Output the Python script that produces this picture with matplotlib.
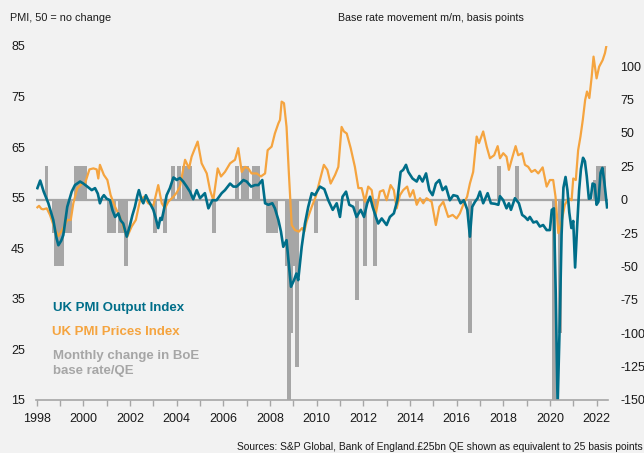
import matplotlib
matplotlib.use("Agg")
import matplotlib.pyplot as plt

# ---------------- data ----------------
output_dates = [
    1998.03, 1998.15, 1998.30, 1998.50, 1998.71, 1998.85, 1998.93, 1999.05, 1999.14, 1999.31,
    1999.50, 1999.64, 1999.86, 2000.00, 2000.17, 2000.36, 2000.50, 2000.62, 2000.71, 2000.80,
    2000.88, 2001.00, 2001.14, 2001.25, 2001.36, 2001.50, 2001.60, 2001.71, 2001.86, 2002.00,
    2002.10, 2002.21, 2002.32, 2002.38, 2002.50, 2002.57, 2002.68, 2002.78, 2002.90, 2003.00,
    2003.10, 2003.21, 2003.30, 2003.36, 2003.47, 2003.57, 2003.71, 2003.86, 2003.93, 2004.00,
    2004.14, 2004.28, 2004.43, 2004.57, 2004.71, 2004.86, 2005.00, 2005.21, 2005.36, 2005.53,
    2005.71, 2005.93, 2006.07, 2006.29, 2006.43, 2006.57, 2006.71, 2006.86, 2007.00, 2007.19,
    2007.36, 2007.50, 2007.67, 2007.79, 2007.93, 2008.10, 2008.21, 2008.36, 2008.47, 2008.57,
    2008.71, 2008.79, 2008.90, 2009.03, 2009.13, 2009.21, 2009.36, 2009.50, 2009.64, 2009.79,
    2009.93, 2010.14, 2010.33, 2010.50, 2010.69, 2010.86, 2011.00, 2011.11, 2011.26, 2011.40,
    2011.57, 2011.71, 2011.89, 2012.03, 2012.17, 2012.29, 2012.40, 2012.54, 2012.64, 2012.79,
    2013.00, 2013.14, 2013.31, 2013.46, 2013.60, 2013.71, 2013.83, 2013.93, 2014.11, 2014.29,
    2014.40, 2014.54, 2014.69, 2014.83, 2014.97, 2015.11, 2015.26, 2015.40, 2015.54, 2015.71,
    2015.86, 2016.03, 2016.17, 2016.31, 2016.46, 2016.57, 2016.67, 2016.79, 2016.90, 2017.00,
    2017.14, 2017.33, 2017.47, 2017.64, 2017.79, 2017.86, 2018.00, 2018.14, 2018.24, 2018.33,
    2018.50, 2018.67, 2018.81, 2018.93, 2019.05, 2019.14, 2019.29, 2019.43, 2019.57, 2019.71,
    2019.86, 2020.00, 2020.08, 2020.17, 2020.25, 2020.33, 2020.42, 2020.50, 2020.58, 2020.67,
    2020.75, 2020.83, 2020.92, 2021.00, 2021.08, 2021.17, 2021.25, 2021.33, 2021.42, 2021.50,
    2021.58, 2021.67, 2021.75, 2021.83, 2021.92, 2022.00, 2022.08, 2022.17, 2022.25, 2022.33,
    2022.45,
]
output_values = [
    56.9, 58.4, 56.2, 53.9, 50.6, 47.0, 45.6, 46.5, 47.6, 53.2,
    56.2, 57.5, 58.2, 57.8, 57.2, 56.5, 56.9, 55.8, 53.9, 55.0,
    55.5, 54.8, 54.5, 52.5, 51.2, 51.9, 50.5, 49.9, 47.3, 49.6,
    51.5, 53.2, 55.5, 56.5, 54.5, 53.9, 55.5, 54.5, 53.5, 52.6,
    51.0, 49.0, 51.0, 50.6, 53.0, 55.5, 56.9, 59.0, 58.8, 58.5,
    58.9, 58.2, 57.2, 56.2, 54.7, 56.5, 54.9, 55.9, 52.9, 54.5,
    54.5, 55.9, 56.5, 57.8, 57.2, 57.2, 57.8, 58.5, 58.2, 57.2,
    57.5, 57.5, 58.5, 53.9, 53.6, 53.9, 52.9, 50.6, 48.3, 45.3,
    46.6, 42.7, 37.4, 38.7, 40.0, 38.7, 45.3, 49.9, 53.2, 55.9,
    55.5, 57.2, 56.7, 54.5, 52.6, 53.9, 51.2, 55.2, 56.2, 53.6,
    53.2, 51.2, 52.6, 51.2, 53.9, 55.2, 53.2, 51.2, 49.9, 50.9,
    49.6, 51.2, 51.9, 54.5, 60.1, 60.5, 61.5, 60.1, 58.8, 58.2,
    59.3, 58.2, 59.8, 56.5, 55.5, 57.8, 58.5, 56.5, 57.2, 54.5,
    55.5, 55.3, 53.9, 54.5, 52.6, 47.3, 53.2, 54.2, 54.9, 56.2,
    53.9, 55.9, 53.9, 53.8, 53.6, 55.3, 54.5, 52.9, 53.9, 52.6,
    54.9, 53.9, 51.6, 51.2, 50.6, 51.2, 50.1, 50.3, 49.3, 49.6,
    48.6, 48.6, 52.6, 52.9, 36.0, 13.8, 30.0, 47.7, 57.0, 59.1,
    56.5, 52.1, 49.0, 50.4, 41.2, 49.6, 56.4, 60.7, 62.9, 62.2,
    59.2, 54.8, 54.9, 57.8, 57.6, 53.6, 54.2, 59.9, 60.9, 58.2,
    53.1,
]

prices_dates = [
    1998.03, 1998.10, 1998.20, 1998.28, 1998.43, 1998.57, 1998.74, 1998.93, 1999.14, 1999.31,
    1999.46, 1999.57, 1999.74, 1999.93, 2000.07, 2000.26, 2000.43, 2000.57, 2000.64, 2000.71,
    2000.88, 2001.03, 2001.17, 2001.36, 2001.57, 2001.78, 2001.88, 2002.07, 2002.25, 2002.43,
    2002.60, 2002.78, 2003.00, 2003.21, 2003.36, 2003.50, 2003.64, 2003.86, 2004.00, 2004.14,
    2004.36, 2004.53, 2004.64, 2004.75, 2004.90, 2005.07, 2005.29, 2005.43, 2005.57, 2005.76,
    2005.90, 2006.07, 2006.29, 2006.50, 2006.64, 2006.79, 2006.93, 2007.07, 2007.21, 2007.43,
    2007.61, 2007.79, 2007.90, 2008.07, 2008.21, 2008.36, 2008.43, 2008.50, 2008.60, 2008.71,
    2008.81, 2008.93, 2009.07, 2009.24, 2009.38, 2009.47, 2009.57, 2009.79, 2009.96, 2010.14,
    2010.31, 2010.46, 2010.60, 2010.79, 2010.93, 2011.07, 2011.17, 2011.29, 2011.46, 2011.64,
    2011.79, 2011.93, 2012.07, 2012.21, 2012.36, 2012.46, 2012.54, 2012.71, 2012.86, 2013.00,
    2013.17, 2013.31, 2013.43, 2013.57, 2013.71, 2013.88, 2014.00, 2014.14, 2014.29, 2014.43,
    2014.57, 2014.71, 2014.93, 2015.11, 2015.26, 2015.43, 2015.64, 2015.83, 2016.00, 2016.14,
    2016.31, 2016.45, 2016.57, 2016.71, 2016.86, 2016.96, 2017.14, 2017.29, 2017.43, 2017.61,
    2017.76, 2017.86, 2018.00, 2018.14, 2018.24, 2018.36, 2018.53, 2018.64, 2018.81, 2018.93,
    2019.07, 2019.21, 2019.36, 2019.50, 2019.69, 2019.86, 2020.00, 2020.14, 2020.24, 2020.36,
    2020.50, 2020.64, 2020.79, 2020.93, 2021.00, 2021.11, 2021.21, 2021.31, 2021.41, 2021.51,
    2021.59, 2021.69, 2021.79, 2021.87, 2022.00, 2022.11, 2022.26, 2022.36, 2022.45,
]
prices_values = [
    53.1, 53.4, 52.8, 52.7, 52.9, 51.6, 49.3, 47.4, 49.0, 50.6,
    50.6, 53.9, 56.9, 57.7, 57.8, 60.6, 60.8, 60.6, 58.8, 61.5,
    59.5, 58.5, 55.5, 53.2, 51.2, 48.3, 47.3, 49.3, 50.6, 54.5,
    55.2, 53.9, 53.4, 57.5, 53.9, 52.9, 54.2, 55.2, 56.0, 57.2,
    62.5, 60.8, 63.1, 64.4, 66.1, 61.8, 59.8, 56.5, 54.5, 60.8,
    59.2, 60.1, 61.8, 62.5, 64.8, 60.1, 61.1, 60.8, 59.8, 59.8,
    59.2, 59.8, 64.4, 65.1, 67.7, 69.7, 70.4, 74.0, 73.7, 69.0,
    59.8, 49.6, 48.6, 48.3, 49.0, 48.3, 50.3, 53.2, 55.2, 58.5,
    61.5, 60.5, 57.8, 59.5, 61.1, 69.0, 68.1, 67.7, 64.8, 61.1,
    56.9, 56.9, 54.2, 57.2, 56.5, 53.2, 51.9, 56.2, 56.5, 54.5,
    57.5, 56.5, 52.9, 55.5, 56.5, 57.2, 55.2, 56.5, 53.6, 54.9,
    53.9, 54.9, 54.2, 49.6, 53.2, 54.2, 51.2, 51.6, 50.9, 51.9,
    53.9, 55.2, 57.8, 60.1, 67.1, 65.8, 68.1, 65.1, 62.8, 63.4,
    65.2, 62.8, 63.8, 63.1, 60.5, 62.5, 65.2, 63.4, 63.8, 61.5,
    61.1, 60.1, 60.5, 59.8, 61.0, 57.2, 58.5, 58.5, 55.2, 48.0,
    50.3, 53.6, 54.9, 54.5, 58.8, 58.5, 64.4, 67.1, 70.4, 74.3,
    76.0, 74.7, 78.9, 82.9, 78.6, 80.9, 82.2, 83.6, 85.7,
]

bar_dates = [
    1998.42, 1998.75, 1998.83, 1998.92, 1999.00, 1999.08, 1999.25, 1999.42, 1999.67, 1999.83,
    2000.00, 2000.08, 2001.08, 2001.25, 2001.33, 2001.58, 2001.67, 2001.75, 2001.83, 2003.08,
    2003.50, 2003.83, 2004.08, 2004.33, 2004.42, 2004.58, 2005.58, 2006.58, 2006.83, 2007.00,
    2007.33, 2007.50, 2007.92, 2008.08, 2008.25, 2008.75, 2008.83, 2008.92, 2009.00, 2009.08,
    2009.17, 2009.96, 2011.75, 2012.08, 2012.50, 2016.58, 2017.83, 2018.58, 2020.17, 2020.45,
    2021.92, 2022.08, 2022.17, 2022.33,
]
bar_values = [
    25, -25, -50, -50, -25, -50, -25, -25, 25, 25,
    25, 25, -25, -25, -25, -25, -25, -25, -50, -25,
    -25, 25, 25, 25, 25, 25, -25, 25, 25, 25,
    25, 25, -25, -25, -25, -50, -150, -100, -50, -50,
    -125, -25, -75, -50, -50, -100, 25, 25, -150, -100,
    15, 25, 25, 25,
]

year_ticks = list(range(1998, 2023))
year_labels = [str(y) if y % 2 == 0 else "" for y in year_ticks]
pmi_ticks = [15, 25, 35, 45, 55, 65, 75, 85]
bp_ticks = [-150, -125, -100, -75, -50, -25, 0, 25, 50, 75, 100]

# ---------------- styling ----------------
BG = "#f2f2f2"
TEAL = "#006e89"
ORANGE = "#f5a43f"
GREY = "#a6a6a6"
TXT = "#1a1a1a"

plt.rcParams["font.family"] = ["Liberation Sans", "DejaVu Sans"]

W, H = 644, 453
fig = plt.figure(figsize=(W / 100, H / 100), dpi=100, facecolor=BG)
ax = fig.add_axes([36 / W, 1 - 400 / H, (608 - 36) / W, (400 - 46) / H])
ax2 = ax.twinx()
ax.set_zorder(ax2.get_zorder() + 1)
ax.patch.set_visible(False)
ax2.set_facecolor(BG)

# bars + zero line on the right (basis points) axis
ax2.bar(bar_dates, bar_values, width=0.17, color=GREY, linewidth=0, zorder=2)
ax2.axhline(0, color=GREY, lw=1.6, zorder=3)

# PMI lines on the left axis
ax.plot(prices_dates, prices_values, color=ORANGE, lw=1.6, zorder=3)
ax.plot(output_dates, output_values, color=TEAL, lw=1.9, zorder=4)

ax.set_xlim(1997.97, 2022.49)
ax.set_ylim(15, 85)
ax2.set_ylim(-150, 115)

ax.set_yticks(pmi_ticks)
ax.set_yticklabels([str(t) for t in pmi_ticks])
ax2.set_yticks(bp_ticks)
ax2.set_yticklabels([str(t) for t in bp_ticks])
ax.set_xticks(year_ticks)
ax.set_xticklabels(year_labels)

ax.tick_params(axis="y", length=0, pad=8, labelsize=9, labelcolor=TXT)
ax2.tick_params(axis="y", length=0, pad=9, labelsize=9, labelcolor=TXT)
ax.tick_params(axis="x", length=4, width=1, color=GREY, pad=5, labelsize=9,
               labelcolor=TXT)

for s in ["top", "left", "right"]:
    ax.spines[s].set_visible(False)
for s in ax2.spines.values():
    s.set_visible(False)
ax.spines["bottom"].set_color(GREY)
ax.spines["bottom"].set_linewidth(1.2)
ax.spines["bottom"].set_zorder(5)


def ftext(x, y, s, **kw):
    fig.text(x / W, 1 - y / H, s, **kw)


ftext(10, 18, "PMI, 50 = no change", fontsize=7.8, color=TXT, va="center", ha="left")
ftext(338, 18, "Base rate movement m/m, basis points", fontsize=7.7, color=TXT,
      va="center", ha="left")
ftext(237, 447, "Sources: S&P Global, Bank of England.£25bn QE shown as equivalent to 25 basis points",
      fontsize=7.4, color=TXT, va="center", ha="left")

ftext(53, 308, "UK PMI Output Index", fontsize=9.5, fontweight="bold", color=TEAL,
      va="center", ha="left")
ftext(52, 332, "UK PMI Prices Index", fontsize=9.5, fontweight="bold", color=ORANGE,
      va="center", ha="left")
ftext(53, 356, "Monthly change in BoE", fontsize=9.5, fontweight="bold", color=GREY,
      va="center", ha="left")
ftext(53, 371, "base rate/QE", fontsize=9.5, fontweight="bold", color=GREY,
      va="center", ha="left")

fig.savefig("out.png", dpi=100, facecolor=BG)
